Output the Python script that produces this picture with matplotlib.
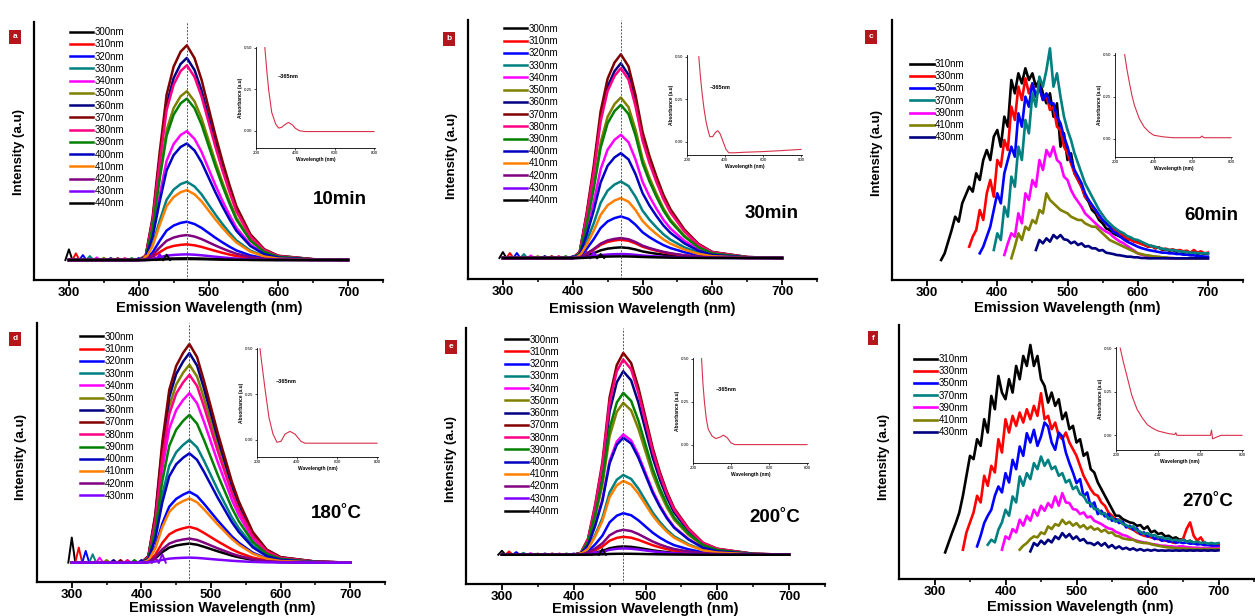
import numpy as np
import matplotlib.pyplot as plt

plt.rcParams['font.family'] = ['Liberation Sans', 'DejaVu Sans']

W, H = 1255, 616

# ---- excitation wavelengths / colours (Origin default order) ----
ex_full = [300, 310, 320, 330, 340, 350, 360, 370, 380, 390, 400, 410, 420, 430, 440]
col_full = ['#000000', '#ff0000', '#0000ff', '#008080', '#ff00ff', '#808000', '#000080',
            '#800000', '#ff0080', '#008000', '#0000c0', '#ff8000', '#800080', '#8000ff', '#000000']
ex_sub = [310, 330, 350, 370, 390, 410, 430]
col_sub = ['#000000', '#ff0000', '#0000ff', '#008080', '#ff00ff', '#808000', '#000080']

# ---- emission grid and normalised band shape for panels a, b, d, e ----
em_grid = [300, 400, 410, 420, 430, 440, 450, 460, 469, 480, 490, 500, 510, 520, 530, 540, 560, 580, 600, 650, 700]
profile_a = [0, 0, 0.02, 0.20, 0.50, 0.77, 0.90, 0.97, 1.0, 0.94, 0.84, 0.71, 0.58, 0.46, 0.35, 0.25, 0.12, 0.05, 0.02, 0.004, 0]
profile_b = [0, 0, 0.03, 0.22, 0.45, 0.72, 0.88, 0.96, 1.0, 0.94, 0.80, 0.62, 0.50, 0.40, 0.31, 0.24, 0.14, 0.07, 0.03, 0.005, 0]
profile_d = [0, 0, 0.03, 0.22, 0.55, 0.79, 0.90, 0.96, 1.0, 0.94, 0.83, 0.71, 0.59, 0.48, 0.37, 0.28, 0.14, 0.06, 0.025, 0.005, 0]
profile_e = [0, 0, 0.01, 0.08, 0.25, 0.46, 0.78, 0.94, 1.0, 0.95, 0.83, 0.68, 0.53, 0.41, 0.31, 0.23, 0.13, 0.06, 0.03, 0.005, 0]

# peak heights per excitation wavelength (a.u.)
peaks_a = [5, 47, 115, 235, 387, 507, 607, 645, 585, 485, 350, 210, 75, 17, 3]
peaks_b = [32, 55, 125, 230, 370, 482, 585, 612, 570, 460, 315, 180, 60, 12, 5]
peaks_d = [57, 107, 212, 367, 507, 592, 627, 654, 562, 442, 327, 192, 72, 15]
peaks_e = [25, 54, 125, 240, 362, 457, 552, 607, 587, 487, 352, 222, 75, 19, 3]
# Rayleigh scatter bumps at the excitation wavelength
bump_a = [32, 20, 15, 12, 8, 7, 6, 6, 6, 6, 6, 12, 18, 18, 16]
bump_b = [18, 15, 15, 12, 8, 6, 6, 6, 6, 6, 6, 10, 18, 18, 12]
bump_d = [75, 45, 35, 25, 15, 8, 8, 8, 8, 8, 8, 10, 15, 25]
bump_e = [12, 10, 8, 6, 5, 4, 4, 4, 4, 4, 4, 6, 8, 10, 17]

# ---- panel c (60 min), 5 nm steps from the start wavelength ----
c_start = [320, 360, 375, 395, 410, 420, 455]
c310 = [0, 20, 55, 90, 130, 115, 170, 195, 220, 205, 260, 240, 300, 330, 300, 370, 390, 340, 430, 400,
        540, 500, 560, 530, 575, 540, 560, 520, 540, 500, 470, 500, 430, 470, 340, 380, 300, 320, 260, 240,
        220, 190, 175, 150, 140, 120, 110, 95, 90, 80, 75, 70, 72, 60, 65, 55, 58, 50, 45, 40,
        42, 35, 38, 30, 32, 28, 30, 25, 28, 22, 25, 20, 24, 18, 22, 18, 20]
c330 = [40, 70, 90, 150, 120, 200, 240, 190, 300, 280, 360, 330, 460, 420, 520, 480, 545, 500, 530, 490,
        515, 480, 495, 450, 460, 400, 390, 340, 320, 290, 260, 240, 220, 190, 180, 160, 150, 130, 120, 110,
        100, 95, 85, 80, 72, 65, 60, 55, 52, 48, 45, 40, 42, 36, 38, 32, 34, 30, 32, 28,
        30, 26, 28, 22, 30, 22, 26, 20, 22]
c350 = [20, 40, 70, 100, 150, 200, 170, 260, 300, 340, 310, 440, 400, 490, 460, 530, 490, 520, 480, 500,
        470, 470, 430, 410, 370, 340, 300, 270, 250, 230, 200, 180, 165, 150, 135, 120, 110, 100, 85, 80,
        70, 62, 55, 50, 45, 40, 36, 33, 30, 28, 26, 24, 22, 22, 20, 20, 18, 18, 16, 16,
        14, 14, 12, 12, 10, 10]
c370 = [30, 80, 60, 160, 130, 250, 220, 340, 300, 420, 380, 500, 460, 550, 520, 570, 635, 520, 560, 490,
        430, 390, 360, 320, 290, 260, 230, 210, 190, 170, 150, 135, 120, 110, 100, 92, 85, 80, 72, 68,
        62, 60, 55, 50, 45, 42, 40, 36, 34, 32, 30, 30, 28, 26, 25, 24, 22, 22, 21, 20,
        20, 20]
c390 = [15, 50, 80, 70, 140, 110, 200, 180, 240, 220, 300, 270, 330, 310, 340, 300, 290, 250, 240, 210,
        190, 175, 160, 140, 130, 120, 110, 100, 92, 85, 80, 70, 62, 55, 50, 42, 35, 28, 20, 16,
        14, 12, 10, 10, 8, 8, 6, 6, 5, 5, 5, 5, 5, 5, 5, 5, 5, 5, 5]
c410 = [5, 40, 80, 60, 100, 90, 120, 110, 150, 140, 200, 180, 170, 160, 150, 145, 140, 130, 125, 120,
        120, 110, 105, 100, 100, 90, 80, 70, 60, 55, 50, 45, 40, 35, 30, 25, 20, 18, 15, 14,
        12, 10, 10, 8, 8, 6, 6, 5, 5, 5, 5, 5, 5, 5, 5, 5, 5]
c430 = [30, 60, 50, 65, 55, 75, 65, 75, 62, 60, 50, 55, 45, 50, 40, 42, 35, 35, 28, 30,
        22, 20, 18, 15, 14, 12, 10, 10, 8, 8, 6, 6, 5, 5, 5, 5, 5, 5, 5, 5,
        5, 5, 5, 5, 5, 5, 5, 5, 5, 5]
c_curves = [c310, c330, c350, c370, c390, c410, c430]

# ---- panel f (270 C) ----
f_start = [315, 340, 360, 375, 395, 420, 435]
f310 = [0, 30, 60, 88, 120, 170, 230, 290, 280, 340, 320, 400, 360, 470, 430, 530, 480, 460, 520, 480,
        560, 520, 590, 560, 623, 560, 590, 520, 500, 450, 480, 440, 460, 400, 420, 370, 380, 330, 340, 290,
        300, 250, 240, 210, 190, 170, 150, 130, 110, 110, 100, 95, 90, 88, 80, 82, 70, 78, 60, 65,
        55, 58, 48, 50, 42, 45, 38, 40, 32, 35, 28, 32, 26, 30, 24, 28, 20, 25]
f330 = [8, 60, 90, 120, 170, 150, 230, 200, 260, 240, 340, 300, 400, 360, 410, 380, 420, 390, 430, 400,
        440, 410, 478, 400, 410, 370, 390, 350, 340, 360, 330, 310, 290, 260, 230, 210, 190, 175, 170, 150,
        140, 120, 110, 100, 98, 88, 80, 72, 68, 60, 55, 50, 48, 45, 42, 40, 38, 35, 34, 30,
        28, 35, 40, 70, 90, 50, 35, 45, 28, 25, 26, 22, 23]
f350 = [18, 50, 88, 110, 128, 170, 198, 180, 238, 210, 278, 250, 318, 290, 358, 330, 368, 320, 348, 390,
        378, 330, 308, 360, 348, 300, 268, 240, 208, 220, 168, 180, 138, 150, 115, 125, 108, 115, 95, 100,
        88, 92, 75, 80, 68, 72, 55, 60, 48, 52, 40, 44, 35, 38, 32, 34, 29, 31, 28, 30,
        26, 27, 24, 25, 22, 22, 20, 20, 18]
f370 = [23, 38, 30, 68, 90, 128, 110, 168, 150, 228, 200, 238, 220, 268, 250, 288, 260, 278, 250, 258,
        230, 238, 210, 218, 190, 198, 175, 170, 150, 148, 130, 130, 115, 118, 100, 105, 92, 98, 85, 82,
        75, 78, 65, 62, 55, 58, 50, 52, 45, 46, 40, 42, 36, 38, 34, 38, 32, 34, 30, 32,
        28, 30, 26, 28, 26, 28]
f390 = [8, 48, 40, 70, 60, 98, 80, 110, 95, 128, 110, 140, 125, 148, 135, 168, 140, 178, 150, 148,
        130, 128, 115, 120, 105, 108, 95, 90, 85, 78, 72, 70, 62, 58, 52, 50, 44, 38, 35, 32,
        30, 28, 25, 24, 22, 20, 20, 18, 18, 16, 18, 18, 16, 15, 14, 14, 13, 13, 13, 13,
        13, 13]
f410 = [8, 20, 28, 40, 48, 45, 60, 55, 78, 70, 85, 80, 98, 85, 92, 80, 88, 75, 82, 70,
        78, 68, 72, 62, 68, 58, 60, 50, 48, 42, 40, 38, 38, 32, 30, 28, 28, 25, 22, 20,
        18, 16, 15, 14, 13, 12, 12, 11, 11, 10, 10, 10, 10, 10, 10, 10, 10]
f430 = [3, 28, 20, 35, 25, 38, 30, 48, 40, 58, 45, 55, 40, 48, 35, 40, 28, 28, 22, 30,
        20, 28, 15, 22, 12, 18, 10, 14, 8, 12, 6, 10, 5, 8, 5, 8, 5, 6, 5, 6,
        5, 6, 5, 6, 5, 6, 5, 6, 5, 6, 5, 6, 5, 6]
f_curves = [f310, f330, f350, f370, f390, f410, f430]

# ---- absorbance insets (wavelength nm, absorbance) ----
abs_a_x = [245, 255, 265, 280, 300, 315, 330, 345, 365, 385, 400, 420, 450, 500, 600, 700, 800]
abs_a_y = [0.50, 0.36, 0.24, 0.11, 0.04, 0.016, 0.02, 0.035, 0.05, 0.035, 0.015, 0.0, -0.005, -0.005, -0.005, -0.005, -0.005]
abs_b_x = [262, 270, 280, 290, 300, 310, 320, 335, 350, 362, 375, 390, 405, 420, 450, 500, 600, 700, 800]
abs_b_y = [0.50, 0.39, 0.28, 0.19, 0.12, 0.07, 0.03, 0.03, 0.055, 0.065, 0.045, 0.0, -0.045, -0.065, -0.065, -0.062, -0.058, -0.052, -0.045]
abs_c_x = [250, 262, 275, 287, 300, 325, 350, 375, 400, 450, 500, 600, 640, 650, 660, 700, 800]
abs_c_y = [0.50, 0.41, 0.33, 0.26, 0.20, 0.12, 0.07, 0.04, 0.02, 0.01, 0.005, 0.005, 0.005, 0.015, 0.005, 0.005, 0.005]
abs_d_x = [215, 225, 240, 260, 280, 300, 320, 340, 365, 390, 420, 440, 500, 600, 700, 800]
abs_d_y = [0.50, 0.41, 0.28, 0.12, 0.03, -0.015, -0.01, 0.03, 0.045, 0.03, -0.01, -0.02, -0.02, -0.02, -0.02, -0.02]
abs_e_x = [245, 252, 260, 270, 280, 300, 320, 345, 360, 380, 400, 420, 500, 600, 700, 800]
abs_e_y = [0.50, 0.36, 0.25, 0.15, 0.09, 0.05, 0.035, 0.045, 0.055, 0.04, 0.01, 0.0, 0.0, 0.0, 0.0, 0.0]
abs_f_x = [220, 235, 250, 275, 300, 325, 350, 375, 400, 450, 480, 485, 490, 500, 600, 650, 655, 660, 700, 800]
abs_f_y = [0.50, 0.42, 0.35, 0.23, 0.15, 0.10, 0.06, 0.04, 0.025, 0.01, 0.005, 0.015, 0.0, 0.0, 0.0, 0.0, 0.03, -0.02, 0.0, 0.0]

big_labels = ['10min', '30min', '60min', '180\u02daC', '200\u02daC', '270\u02daC']
panel_letters = ['a', 'b', 'c', 'd', 'e', 'f']

fig = plt.figure(figsize=(W / 100, H / 100), dpi=100)


def rect(l, t, r, b):
    return [l / W, 1 - b / H, (r - l) / W, (b - t) / H]


def main_axes(box, ylim, xmax=750):
    ax = fig.add_axes(rect(*box))
    ax.set_xlim(250, xmax)
    ax.set_ylim(*ylim)
    for s in ['top', 'right']:
        ax.spines[s].set_visible(False)
    for s in ['left', 'bottom']:
        ax.spines[s].set_linewidth(1.6)
    ax.set_yticks([])
    ax.set_xticks([300, 400, 500, 600, 700])
    ax.set_xticks([350, 450, 550, 650, 750], minor=True)
    ax.tick_params(axis='x', which='major', direction='out', length=4, width=1.3, pad=1.2, labelsize=9.5)
    ax.tick_params(axis='x', which='minor', direction='out', length=2.5, width=1.1)
    for lab in ax.get_xticklabels():
        lab.set_fontweight('bold')
    return ax


def inset(box, xs, ys, ylim, note=None):
    ax = fig.add_axes(rect(*box))
    ax.plot(xs, ys, color='#d8304a', lw=0.8)
    ax.set_xlim(200, 805)
    ax.set_ylim(*ylim)
    for s in ['top', 'right']:
        ax.spines[s].set_visible(False)
    for s in ['left', 'bottom']:
        ax.spines[s].set_linewidth(0.6)
    ax.set_xticks([200, 400, 600, 800])
    ax.set_yticks([0.0, 0.25, 0.5])
    ax.set_yticklabels(['0.00', '0.25', '0.50'])
    ax.tick_params(labelsize=3.2, length=1.5, width=0.5, pad=1)
    ax.set_xlabel('Wavelength (nm)', fontsize=3.5, fontweight='bold', labelpad=1)
    ax.set_ylabel('Absorbance (a.u)', fontsize=3.5, fontweight='bold', labelpad=1)
    if note:
        ax.text(note[0], note[1], '~365nm', fontsize=4, fontweight='bold')
    ax.patch.set_alpha(0)


def legend(ax, x, y):
    ax.legend(loc='upper left', bbox_to_anchor=(x, y), frameon=False, fontsize=7,
              handlelength=2.4, handletextpad=0.15, labelspacing=0.23, borderpad=0, borderaxespad=0)


def spectra(ax, profile, peaks, bumps):
    prof = np.array(profile)
    for e, c, p, b in zip(ex_full, col_full, peaks, bumps):
        ax.plot(em_grid, p * prof, color=c, lw=1.8, label=f'{e}nm')
        ax.plot([e - 5, e, e + 5], [0, b, 0], color=c, lw=1.4)
    ax.axvline(469, color='#555555', lw=0.7, ls=(0, (2, 1.5)))


def noisy(ax, starts, curves):
    for e, c, s, vals in zip(ex_sub, col_sub, starts, curves):
        x = s + 5 * np.arange(len(vals))
        ax.plot(x, vals, color=c, lw=1.9, label=f'{e}nm')


# panel a
ax = main_axes((34, 22, 383, 280), (-60, 715))
spectra(ax, profile_a, peaks_a, bump_a)
legend(ax, 0.103, 0.98)
inset((256, 47, 375, 148), abs_a_x, abs_a_y, (-0.104, 0.504), (310, 0.32))

# panel b
ax = main_axes((468, 20, 817, 279), (-63, 715))
spectra(ax, profile_b, peaks_b, bump_b)
legend(ax, 0.103, 0.985)
inset((687, 55, 802, 155), abs_b_x, abs_b_y, (-0.078, 0.51), (322, 0.31))

# panel c
ax = main_axes((892, 20, 1243, 280), (-60, 720))
noisy(ax, c_start, c_curves)
legend(ax, 0.052, 0.85)
inset((1115, 53, 1232, 157), abs_c_x, abs_c_y, (-0.11, 0.51))

# panel d
ax = main_axes((37, 323, 385, 582), (-58, 717))
spectra(ax, profile_d, peaks_d, bump_d)
legend(ax, 0.124, 0.966)
inset((257, 348, 378, 457), abs_d_x, abs_d_y, (-0.096, 0.504), (296, 0.31))

# panel e
ax = main_axes((466, 328, 825, 584), (-88, 682))
spectra(ax, profile_e, peaks_e, bump_e)
legend(ax, 0.109, 0.974)
inset((693, 358, 808, 463), abs_e_x, abs_e_y, (-0.107, 0.504), (322, 0.31))

# panel f
ax = main_axes((899, 325, 1254, 579), (-80, 683), xmax=740)
noisy(ax, f_start, f_curves)
legend(ax, 0.041, 0.886)
inset((1116, 347, 1243, 450), abs_f_x, abs_f_y, (-0.084, 0.506))

# axis titles, panel letters, big labels
xlab_pos = [(209, 301, 'top'), (642, 302, 'top'), (1067, 301, 'top'),
            (222, 615, 'bottom'), (645, 616, 'bottom'), (1080, 614, 'bottom')]
ylab_pos = [(19, 152), (452, 156), (877, 153), (21, 457), (451, 459), (884, 457)]
letter_pos = [(15, 37), (449, 39), (871, 37), (15, 339), (451, 347), (873, 338)]
big_pos = [(340, 200), (772, 213), (1211, 215), (336, 514), (775, 517), (1208, 502)]
for i in range(6):
    xl, yl, va = xlab_pos[i]
    fig.text(xl / W, 1 - yl / H, 'Emission Wavelength (nm)',
             ha='center', va=va, fontsize=10.5, fontweight='bold')
    fig.text(ylab_pos[i][0] / W, 1 - ylab_pos[i][1] / H, 'Intensity (a.u)', rotation=90,
             ha='center', va='center', fontsize=9.5, fontweight='bold')
    fig.text(letter_pos[i][0] / W, 1 - letter_pos[i][1] / H, panel_letters[i], ha='center', va='center',
             fontsize=6, fontweight='bold', color='white',
             bbox=dict(boxstyle='square,pad=0.45', fc='#b3161b', ec='none'))
    fig.text(big_pos[i][0] / W, 1 - big_pos[i][1] / H, big_labels[i], ha='center', va='center',
             fontsize=13.5, fontweight='bold')

fig.savefig('out.png', dpi=100)
